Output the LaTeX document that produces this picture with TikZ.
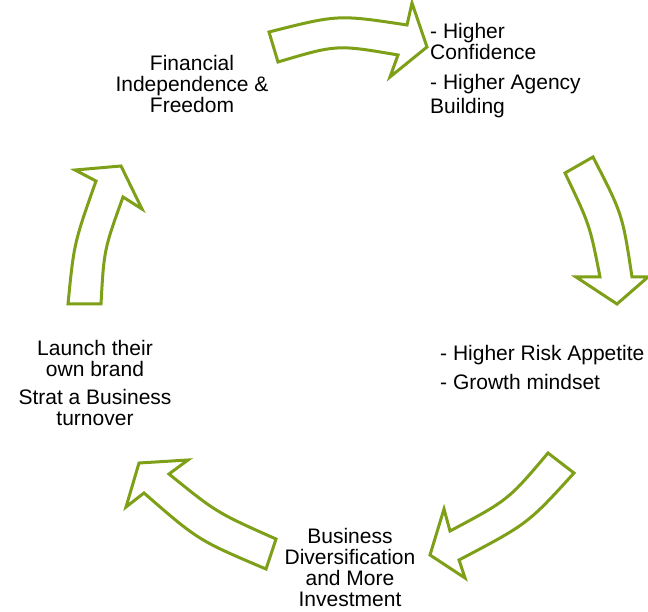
\documentclass[tikz,border=0pt]{standalone}
\usepackage{fontspec}
\setmainfont{Liberation Sans}
\definecolor{leafgreen}{RGB}{126,160,24}
\begin{document}
\begin{tikzpicture}[x=1pt,y=-1pt,
  blockarrow/.style={draw=leafgreen, line width=3pt, fill=white, line join=miter},
  label/.style={inner sep=0pt, font=\fontsize{21}{21}\selectfont, text=black}]
\useasboundingbox (0,0) rectangle (648,612);

% curved block arrows running clockwise
\draw[blockarrow] (269,32) .. controls (338,14.5) .. (407,25) -- (412,3) -- (427,47)
  -- (390,77) -- (398,55) .. controls (336.7,44.5) .. (278,62) -- cycle;
\draw[blockarrow] (565,173) -- (593,157) .. controls (622.5,214.3) .. (632,277)
  -- (648,277) -- (617,304) -- (576,277) -- (600,277)
  .. controls (589.8,225) .. (565,173) -- cycle;
\draw[blockarrow] (548,453) -- (574,473) .. controls (527.8,523.8) .. (459,560)
  -- (465,578) -- (430,555) -- (444,509) -- (450,531)
  .. controls (508.3,500) .. (548,453) -- cycle;
\draw[blockarrow] (276,539) -- (266,569) .. controls (198.3,540.3) .. (144,493)
  -- (126,507) -- (139,463) -- (188,460) -- (169,474)
  .. controls (216.5,512.5) .. (276,539) -- cycle;
\draw[blockarrow] (68,304) -- (101,304) .. controls (104,249.8) .. (123,197)
  -- (142,209) -- (121,166) -- (75,170) -- (96,181)
  .. controls (74,243.2) .. (68,304) -- cycle;

% stage labels
\node[label, anchor=north, align=center] (freedom) at (192,55)
  {Financial\\Independence \&\\Freedom};
\node[label, anchor=north west, align=left] (confidence) at (430,23)
  {- Higher\\Confidence\\[9pt]- Higher Agency\\[3pt]Building};
\node[label, anchor=north west, align=left] (risk) at (440,345)
  {- Higher Risk Appetite\\[8pt]- Growth mindset};
\node[label, anchor=north, align=center] (diversify) at (350,528)
  {Business\\Diversification\\and More\\Investment};
\node[label, anchor=north, align=center] (brand) at (95,340)
  {Launch their\\own brand\\[7pt]Strat a Business\\turnover};
\end{tikzpicture}
\end{document}
